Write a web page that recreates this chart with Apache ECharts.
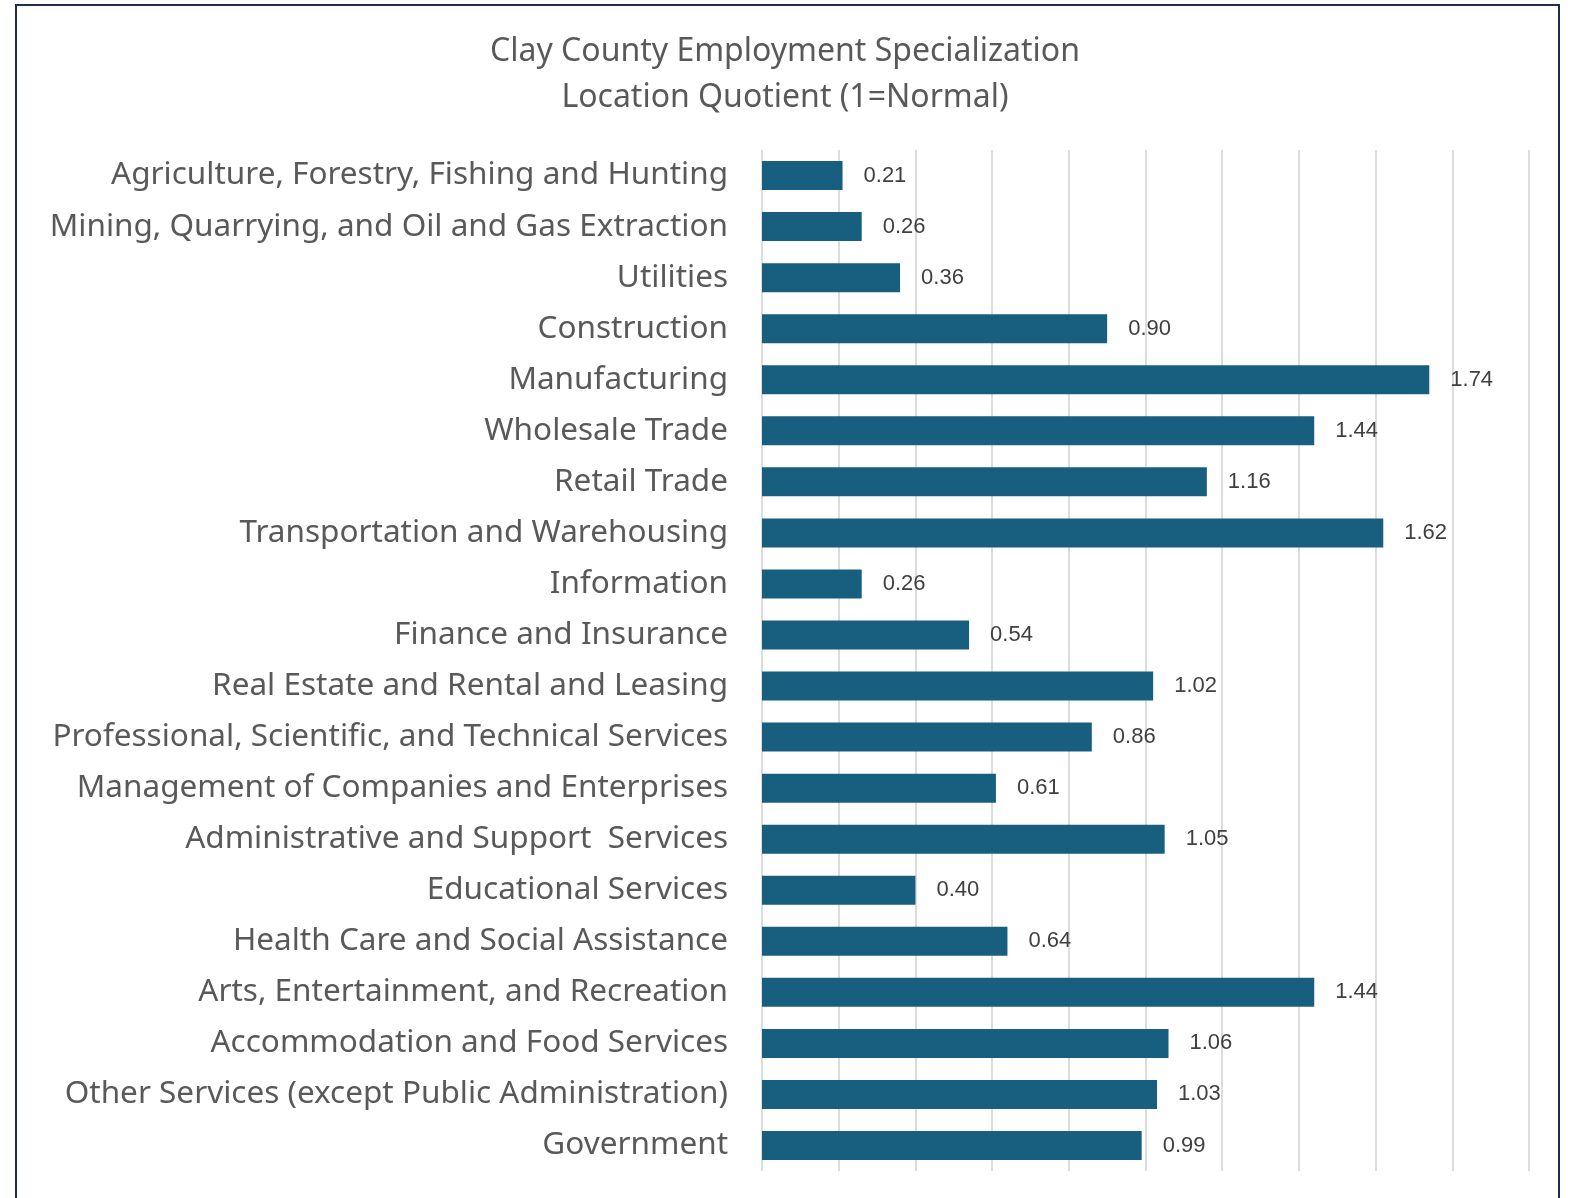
<!DOCTYPE html>
<html>
<head>
<meta charset="utf-8">
<script src="https://cdn.jsdelivr.net/npm/echarts@6/dist/echarts.min.js"></script>
<style>
  html, body { margin: 0; padding: 0; background: #fff; }
  #chart { width: 1570px; height: 1198px; }
</style>
</head>
<body>
<div id="chart"></div>
<script>
// industries, top to bottom
var industries = [
  'Agriculture, Forestry, Fishing and Hunting',
  'Mining, Quarrying, and Oil and Gas Extraction',
  'Utilities',
  'Construction',
  'Manufacturing',
  'Wholesale Trade',
  'Retail Trade',
  'Transportation and Warehousing',
  'Information',
  'Finance and Insurance',
  'Real Estate and Rental and Leasing',
  'Professional, Scientific, and Technical Services',
  'Management of Companies and Enterprises',
  'Administrative and Support  Services',
  'Educational Services',
  'Health Care and Social Assistance',
  'Arts, Entertainment, and Recreation',
  'Accommodation and Food Services',
  'Other Services (except Public Administration)',
  'Government'
];
// location quotient
var lq = [0.21, 0.26, 0.36, 0.90, 1.74, 1.44, 1.16, 1.62, 0.26, 0.54,
          1.02, 0.86, 0.61, 1.05, 0.40, 0.64, 1.44, 1.06, 1.03, 0.99];

var chart = echarts.init(document.getElementById('chart'));

var option = {
  animation: false,
  backgroundColor: '#ffffff',
  title: {
    text: 'Clay County Employment Specialization\nLocation Quotient (1=Normal)',
    left: 'center',
    top: 24,
    textStyle: {
      fontFamily: 'Noto Sans',
      fontWeight: 'normal',
      fontSize: 32,
      lineHeight: 46,
      color: '#595959'
    }
  },
  graphic: [{
    type: 'rect',
    shape: { x: 16, y: 5, width: 1543, height: 1220 },
    style: { fill: 'none', stroke: '#232c50', lineWidth: 2 },
    silent: true
  }],
  grid: {
    left: 762,
    right: 41,
    top: 150,
    bottom: 27
  },
  xAxis: {
    type: 'value',
    min: 0,
    max: 2,
    interval: 0.2,
    axisLabel: { show: false },
    axisLine: { show: false },
    axisTick: { show: false },
    splitLine: { lineStyle: { color: '#dcdcdc', width: 2 } }
  },
  yAxis: {
    type: 'category',
    inverse: true,
    data: industries,
    axisLine: { show: false },
    axisTick: { show: false },
    axisLabel: {
      margin: 34,
      fontFamily: 'Noto Sans',
      fontSize: 31.5,
      color: '#595959'
    }
  },
  series: [{
    type: 'bar',
    data: lq,
    barWidth: 29,
    itemStyle: { color: '#175e7f' },
    label: {
      show: true,
      position: 'right',
      distance: 21,
      fontFamily: 'Liberation Sans',
      fontSize: 22,
      color: '#404040',
      formatter: function (p) { return p.value.toFixed(2); }
    }
  }]
};

chart.setOption(option);
</script>
</body>
</html>
